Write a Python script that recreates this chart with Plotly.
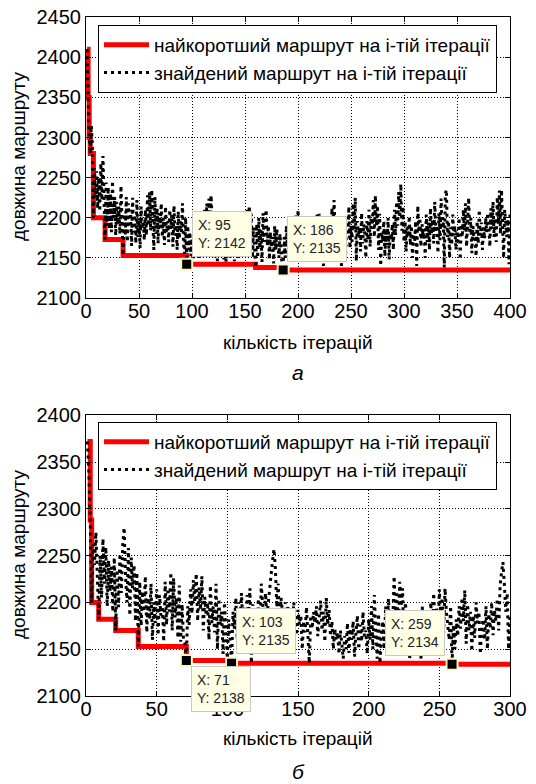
import plotly.graph_objects as go

# ---------------- data: chart (а) ----------------
iters_a = list(range(1, 401))
found_a = [
    2410, 2350, 2300, 2280, 2315, 2290, 2200, 2262, 2225, 2258,
    2212, 2250, 2208, 2268, 2222, 2277, 2215, 2173, 2244, 2190,
    2238, 2186, 2230, 2182, 2246, 2200, 2226, 2178, 2220, 2192,
    2214, 2180, 2240, 2176, 2153, 2205, 2178, 2226, 2170, 2218,
    2188, 2210, 2165, 2225, 2182, 2204, 2168, 2222, 2176, 2200,
    2162, 2214, 2186, 2196, 2172, 2210, 2178, 2228, 2190, 2232,
    2184, 2235, 2200, 2160, 2226, 2180, 2212, 2168, 2206, 2188,
    2218, 2176, 2200, 2166, 2214, 2182, 2196, 2170, 2210, 2186,
    2204, 2164, 2215, 2178, 2192, 2160, 2208, 2174, 2196, 2182,
    2218, 2168, 2155, 2200, 2142, 2190, 2160, 2182, 2152, 2174,
    2148, 2186, 2158, 2195, 2164, 2180, 2150, 2192, 2168, 2176,
    2156, 2210, 2180, 2218, 2190, 2224, 2176, 2228, 2196, 2160,
    2186, 2150, 2178, 2146, 2170, 2160, 2190, 2155, 2184, 2148,
    2176, 2145, 2182, 2165, 2196, 2150, 2188, 2158, 2180, 2146,
    2194, 2162, 2178, 2148, 2186, 2170, 2156, 2200, 2164, 2190,
    2176, 2210, 2184, 2215, 2168, 2205, 2150, 2188, 2158, 2138,
    2192, 2150, 2200, 2162, 2185, 2145, 2206, 2170, 2196, 2210,
    2165, 2190, 2148, 2182, 2158, 2176, 2143, 2190, 2160, 2186,
    2170, 2150, 2180, 2162, 2140, 2135, 2176, 2150, 2190, 2166,
    2198, 2158, 2184, 2170, 2146, 2192, 2176, 2205, 2160, 2210,
    2180, 2196, 2150, 2188, 2168, 2200, 2156, 2182, 2172, 2194,
    2162, 2186, 2148, 2198, 2176, 2190, 2160, 2204, 2170, 2205,
    2182, 2164, 2196, 2140, 2188, 2170, 2200, 2154, 2180, 2190,
    2160, 2212, 2176, 2222, 2184, 2196, 2150, 2188, 2166, 2180,
    2140, 2194, 2172, 2186, 2156, 2200, 2178, 2214, 2162, 2190,
    2170, 2218, 2184, 2225, 2146, 2196, 2176, 2188, 2158, 2206,
    2168, 2192, 2180, 2150, 2196, 2172, 2210, 2164, 2200, 2186,
    2222, 2176, 2228, 2190, 2215, 2160, 2205, 2140, 2182, 2170,
    2196, 2152, 2186, 2166, 2200, 2148, 2180, 2172, 2192, 2160,
    2210, 2178, 2220, 2190, 2232, 2200, 2242, 2184, 2214, 2170,
    2196, 2158, 2188, 2176, 2202, 2166, 2190, 2150, 2180, 2170,
    2196, 2140, 2215, 2182, 2200, 2164, 2192, 2176, 2186, 2150,
    2204, 2170, 2194, 2160, 2212, 2180, 2198, 2168, 2220, 2184,
    2190, 2156, 2206, 2172, 2224, 2186, 2200, 2138, 2230, 2235,
    2176, 2196, 2150, 2188, 2166, 2204, 2178, 2190, 2160, 2184,
    2170, 2200, 2148, 2192, 2176, 2210, 2184, 2218, 2164, 2196,
    2225, 2180, 2200, 2156, 2190, 2172, 2182, 2152, 2196, 2168,
    2210, 2178, 2194, 2160, 2188, 2174, 2200, 2182, 2206, 2190,
    2164, 2212, 2186, 2220, 2176, 2200, 2170, 2226, 2192, 2234,
    2180, 2235, 2200, 2150, 2210, 2188, 2176, 2198, 2142, 2206,
]
best_x_a = [1, 2, 3, 4, 7, 18, 35, 95, 160, 186, 400]
best_y_a = [2410, 2350, 2300, 2280, 2200, 2173, 2153, 2142, 2138, 2135, 2135]
tips_x_a = [95, 186]
tips_y_a = [2142, 2135]

# ---------------- data: chart (б) ----------------
iters_b = list(range(1, 301))
found_b = [
    2372, 2340, 2288, 2200, 2262, 2240, 2275, 2230, 2182, 2250,
    2205, 2268, 2220, 2259, 2196, 2245, 2212, 2238, 2190, 2248,
    2170, 2235, 2195, 2252, 2210, 2262, 2280, 2228, 2200, 2258,
    2186, 2248, 2215, 2240, 2180, 2232, 2153, 2222, 2175, 2212,
    2190, 2228, 2168, 2205, 2182, 2220, 2160, 2200, 2178, 2214,
    2165, 2208, 2186, 2196, 2158, 2222, 2176, 2215, 2190, 2232,
    2170, 2226, 2184, 2205, 2162, 2218, 2158, 2198, 2160, 2156,
    2138, 2196, 2176, 2214, 2188, 2224, 2200, 2231, 2180, 2216,
    2192, 2228, 2170, 2206, 2186, 2200, 2160, 2218, 2178, 2196,
    2168, 2220, 2150, 2204, 2176, 2190, 2145, 2200, 2160, 2140,
    2182, 2150, 2135, 2190, 2172, 2205, 2160, 2200, 2182, 2210,
    2176, 2196, 2166, 2208, 2186, 2215, 2135, 2198, 2170, 2192,
    2180, 2204, 2162, 2220, 2190, 2176, 2210, 2185, 2200, 2218,
    2230, 2245, 2257, 2236, 2195, 2220, 2176, 2205, 2190, 2168,
    2200, 2182, 2196, 2160, 2188, 2172, 2200, 2180, 2165, 2192,
    2176, 2186, 2150, 2180, 2168, 2195, 2160, 2135, 2186, 2172,
    2190, 2178, 2196, 2164, 2184, 2202, 2170, 2190, 2158, 2205,
    2176, 2192, 2164, 2180, 2150, 2172, 2160, 2168, 2145, 2170,
    2156, 2140, 2164, 2150, 2178, 2146, 2172, 2160, 2180, 2142,
    2168, 2186, 2150, 2176, 2158, 2190, 2164, 2170, 2145, 2182,
    2160, 2196, 2150, 2208, 2172, 2140, 2188, 2135, 2166, 2180,
    2150, 2196, 2172, 2204, 2160, 2188, 2176, 2228, 2190, 2212,
    2170, 2222, 2196, 2215, 2150, 2200, 2180, 2192, 2140, 2186,
    2160, 2176, 2150, 2190, 2168, 2182, 2140, 2196, 2160, 2180,
    2146, 2188, 2170, 2200, 2156, 2210, 2176, 2195, 2150, 2214,
    2182, 2205, 2166, 2215, 2190, 2172, 2160, 2196, 2134, 2176,
    2150, 2182, 2164, 2196, 2172, 2205, 2180, 2213, 2156, 2198,
    2170, 2190, 2148, 2186, 2162, 2200, 2178, 2190, 2145, 2172,
    2182, 2160, 2196, 2150, 2188, 2172, 2200, 2165, 2192, 2180,
    2204, 2170, 2218, 2232, 2243, 2220, 2190, 2210, 2150, 2185,
]
best_x_b = [1, 3, 4, 9, 21, 37, 71, 103, 259, 300]
best_y_b = [2372, 2288, 2200, 2182, 2170, 2153, 2138, 2135, 2134, 2134]
tips_x_b = [71, 103, 259]
tips_y_b = [2138, 2135, 2134]

name_best = "найкоротший маршрут на і-тій ітерації"
name_found = "знайдений маршрут на і-тій ітерації"
x_title = "кількість ітерацій"
y_title = "довжина маршруту"

FONT = "Liberation Sans, Arial, sans-serif"
W, H = 536, 784

fig = go.Figure()

def add_chart(xa, ya, legend, it, found, bx, by, tx, ty):
    fig.add_trace(go.Scatter(x=bx, y=by, mode="lines", line_shape="hv",
                             line=dict(color="#ff0000", width=5),
                             name=name_best, xaxis=xa, yaxis=ya, legend=legend))
    fig.add_trace(go.Scatter(x=it, y=found, mode="lines",
                             line=dict(color="black", width=3, dash="3px,4px"),
                             name=name_found, xaxis=xa, yaxis=ya, legend=legend))
    fig.add_trace(go.Scatter(x=tx, y=ty, mode="markers",
                             marker=dict(symbol="square", size=11, color="black",
                                         line=dict(color="#fbf6c8", width=2)),
                             showlegend=False, xaxis=xa, yaxis=ya))

add_chart("x", "y", "legend", iters_a, found_a, best_x_a, best_y_a, tips_x_a, tips_y_a)
add_chart("x2", "y2", "legend2", iters_b, found_b, best_x_b, best_y_b, tips_x_b, tips_y_b)

def px_x(p):
    return p / W

def px_y(p):
    return 1 - p / H

axis_common = dict(showline=True, linecolor="black", linewidth=1, mirror="allticks",
                   ticks="inside", ticklen=5, tickcolor="black", automargin=False,
                   showgrid=True, gridcolor="black", gridwidth=1, griddash="1px,2px",
                   zeroline=False, tickfont=dict(family=FONT, size=20, color="black"))

left, right = 86, 510
legend_common = dict(xanchor="left", yanchor="top", bgcolor="white",
                     bordercolor="black", borderwidth=1, itemwidth=45,
                     font=dict(family=FONT, size=19, color="black"), tracegroupgap=0)
fig.update_layout(
    width=W, height=H,
    margin=dict(l=0, r=0, t=0, b=0, autoexpand=False),
    paper_bgcolor="white", plot_bgcolor="white",
    font=dict(family=FONT, color="black"),
    xaxis=dict(domain=[px_x(left), px_x(right)], range=[0, 400], dtick=50,
               anchor="y", ticklabelstandoff=-5, **axis_common),
    yaxis=dict(domain=[px_y(298), px_y(17)], range=[2100, 2450.3], dtick=50,
               anchor="x", **axis_common),
    xaxis2=dict(domain=[px_x(left), px_x(right)], range=[0, 300], dtick=50,
                anchor="y2", ticklabelstandoff=-5, **axis_common),
    yaxis2=dict(domain=[px_y(696), px_y(415)], range=[2100, 2400.3], dtick=50,
                anchor="x2", **axis_common),
    legend=dict(x=px_x(98), y=px_y(25), **legend_common),
    legend2=dict(x=px_x(98), y=px_y(422), **legend_common),
    showlegend=True,
)

ann = []
# axis titles and captions
for cy, xt_y, cap_y, cap in [(157, 342, 373, "а"), (555, 738, 771, "б")]:
    ann.append(dict(x=px_x(18), y=px_y(cy), xref="paper", yref="paper",
                    xanchor="center", yanchor="middle",
                    text=y_title, textangle=-90, showarrow=False,
                    font=dict(family=FONT, size=19, color="black")))
    ann.append(dict(x=px_x(298), y=px_y(xt_y), xref="paper", yref="paper",
                    xanchor="center", yanchor="middle",
                    text=x_title, showarrow=False,
                    font=dict(family=FONT, size=19, color="black")))
    ann.append(dict(x=px_x(298), y=px_y(cap_y), xref="paper", yref="paper",
                    xanchor="center", yanchor="middle",
                    text="<i>" + cap + "</i>", showarrow=False,
                    font=dict(family=FONT, size=21, color="black")))

def tip(xref, yref, x, y, bx, byv):
    return dict(x=bx, y=byv, xref=xref, yref=yref, xanchor="left", yanchor="top",
                text=f"X: {x}<br>Y: {y}", showarrow=False, align="left",
                bgcolor="#ffffe6", bordercolor="#c8c8c8", borderwidth=1, borderpad=5,
                font=dict(family=FONT, size=14, color="#222222"))

box_pos_a = [(100, 2208), (189.6, 2202)]
for (x, y), (bx, byv) in zip(zip(tips_x_a, tips_y_a), box_pos_a):
    ann.append(tip("x", "y", x, y, bx, byv))
box_pos_b = [(74.3, 2132), (106.1, 2194), (211.5, 2192)]
for (x, y), (bx, byv) in zip(zip(tips_x_b, tips_y_b), box_pos_b):
    ann.append(tip("x2", "y2", x, y, bx, byv))

fig.update_layout(annotations=ann)
fig.write_html(
    "out.html",
    config={"displayModeBar": False},
    post_script="document.body.style.margin='0';"
                "document.documentElement.style.overflow='hidden';",
)
